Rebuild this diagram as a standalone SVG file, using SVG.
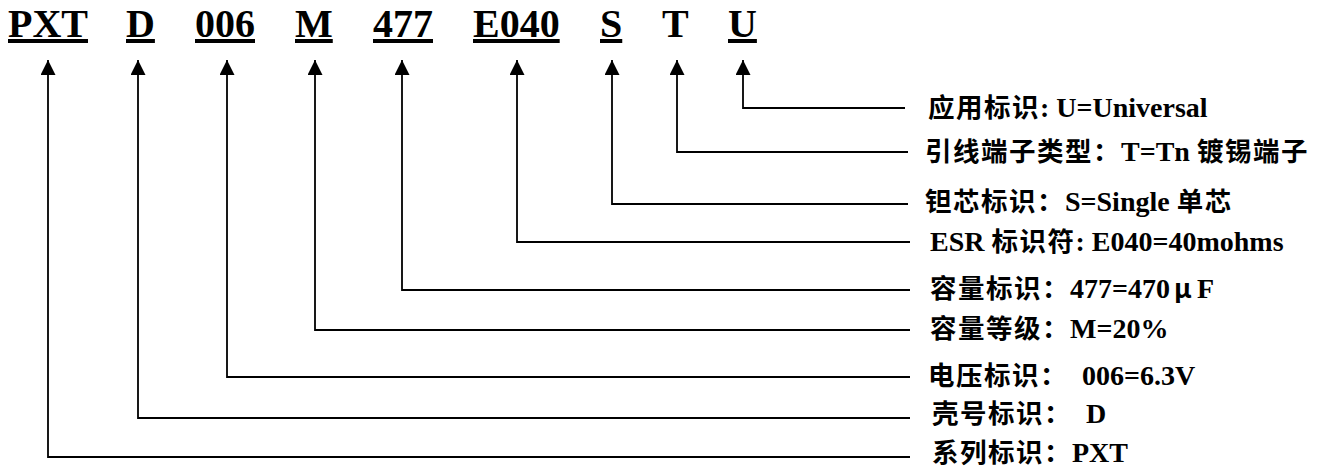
<svg xmlns="http://www.w3.org/2000/svg" width="1323" height="470" viewBox="0 0 1323 470">
<style>
.code{font-family:"Liberation Serif","Noto Sans CJK SC",serif;font-weight:bold;font-size:40px;fill:#000}
.u{text-decoration:underline}
.lbl{font-family:"Liberation Serif","Noto Sans CJK SC",serif;font-weight:bold;font-size:28px;fill:#000}
.cjk{font-family:"Noto Sans CJK SC",sans-serif;font-weight:bold;font-size:26.5px;letter-spacing:1.5px}
.conn{fill:none;stroke:#000;stroke-width:1.8}
</style>
<defs>
<marker id="arr" markerUnits="userSpaceOnUse" markerWidth="16" markerHeight="16" refX="15" refY="7.5" orient="auto-start-reverse">
<path d="M0,0 L15,7.5 L0,15 Z" fill="#000"/>
</marker>
</defs>
<rect width="1323" height="470" fill="#fff"/>
<g id="codes">
<text id="c-pxt" class="code u" x="8" y="37">PXT</text>
<text id="c-d" class="code u" x="126" y="37">D</text>
<text id="c-006" class="code u" x="195" y="37">006</text>
<text id="c-m" class="code u" x="295" y="37">M</text>
<text id="c-477" class="code u" x="373" y="37">477</text>
<text id="c-e040" class="code u" x="473" y="37">E040</text>
<text id="c-s" class="code u" x="600" y="37">S</text>
<text id="c-t" class="code" x="662" y="37">T</text>
<text id="c-u" class="code u" x="728" y="37">U</text>
</g>
<g id="connectors">
<path class="conn" marker-start="url(#arr)" d="M743,60 V108 H905"/>
<path class="conn" marker-start="url(#arr)" d="M677,60 V152 H908"/>
<path class="conn" marker-start="url(#arr)" d="M612,60 V204 H908"/>
<path class="conn" marker-start="url(#arr)" d="M517,60 V242 H910"/>
<path class="conn" marker-start="url(#arr)" d="M402,60 V290 H910"/>
<path class="conn" marker-start="url(#arr)" d="M315,60 V330 H910"/>
<path class="conn" marker-start="url(#arr)" d="M227,60 V377 H910"/>
<path class="conn" marker-start="url(#arr)" d="M138,60 V418 H910"/>
<path class="conn" marker-start="url(#arr)" d="M48,60 V457 H910"/>
</g>
<g id="label-u"><text class="lbl" x="928" y="117"><tspan class="cjk">应用标识</tspan>: U=Universal</text></g>
<g id="label-t"><text class="lbl" x="925" y="161"><tspan class="cjk">引线端子类型：</tspan>T=Tn <tspan class="cjk">镀锡端子</tspan></text></g>
<g id="label-s"><text class="lbl" x="925" y="211"><tspan class="cjk">钽芯标识：</tspan>S=Single <tspan class="cjk">单芯</tspan></text></g>
<g id="label-e"><text class="lbl" x="930" y="251">ESR <tspan class="cjk">标识符</tspan>: E040=40mohms</text></g>
<g id="label-477"><text class="lbl" x="930" y="298"><tspan class="cjk">容量标识：</tspan>477=470<tspan class="cjk" dx="4" font-weight="normal">μ</tspan><tspan dx="4">F</tspan></text></g>
<g id="label-m"><text class="lbl" x="930" y="338"><tspan class="cjk">容量等级：</tspan>M=20%</text></g>
<g id="label-006"><text class="lbl" x="928" y="385"><tspan class="cjk">电压标识：</tspan><tspan dx="14">006=6.3V</tspan></text></g>
<g id="label-d"><text class="lbl" x="932" y="423"><tspan class="cjk">壳号标识：</tspan><tspan dx="14">D</tspan></text></g>
<g id="label-pxt"><text class="lbl" x="932" y="462"><tspan class="cjk">系列标识：</tspan>PXT</text></g>
</svg>
